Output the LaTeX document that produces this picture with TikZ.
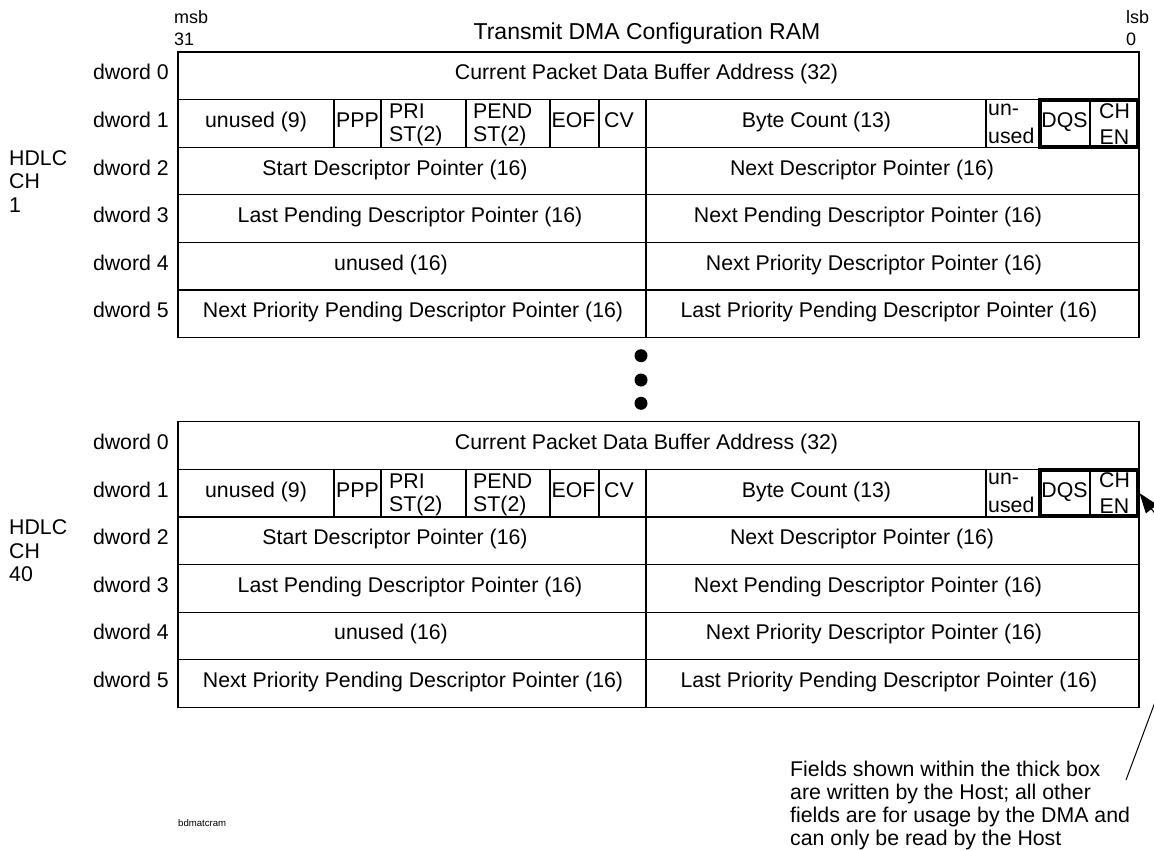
\documentclass[tikz,border=0pt]{standalone}
\usepackage{fontspec}
\setmainfont{Liberation Sans}
\usetikzlibrary{arrows.meta}
\tikzset{
  cell/.style={inner sep=0pt, text height=0.9em, text depth=0.1em, anchor=center},
  lineL/.style={inner sep=0pt, anchor=base west},
  lineC/.style={inner sep=0pt, anchor=base},
  bitlbl/.style={inner sep=0pt, anchor=base west, font=\fontsize{18}{20}\selectfont},
  grid/.style={line width=1.2pt},
  thickbox/.style={draw, line width=4pt, inner sep=0pt, minimum width=97.5pt, minimum height=46.5pt},
  dotmark/.style={circle, fill=black, inner sep=0pt, minimum size=13pt},
  leader/.style={line width=1pt, -{Triangle[length=20pt,width=14pt]}},
}
\newcommand\dmatable[3]{%
\begin{scope}[yshift=-#1pt]
  \draw[grid] (178,0) rectangle (1139,285.6);
  \foreach \y in {47.6,95.2,142.8,190.4,238} \draw[grid] (178,\y) -- (1139,\y);
  \foreach \x in {334,381,466,550,599,986,1090} \draw[grid] (\x,47.6) -- (\x,95.2);
  \draw[grid] (646,47.6) -- (646,285.6);
  \node[thickbox] (host#2) at (1088.75,71.4) {};
  % row labels
  \node[cell, anchor=east] (dwa#2) at (169,23.8) {dword 0};
  \node[cell, anchor=east] (dwb#2) at (169,71.4) {dword 1};
  \node[cell, anchor=east] (dwc#2) at (169,119) {dword 2};
  \node[cell, anchor=east] (dwd#2) at (169,166.6) {dword 3};
  \node[cell, anchor=east] (dwe#2) at (169,214.2) {dword 4};
  \node[cell, anchor=east] (dwf#2) at (169,261.8) {dword 5};
  \node[lineL] (hdlc#2) at (9,113) {HDLC};
  \node[lineL] (ch#2) at (9,136.5) {CH};
  \node[lineL] (chn#2) at (9,160) {#3};
  % dword 0
  \node[cell] (cpdba#2) at (646.5,23.8) {Current Packet Data Buffer Address (32)};
  % dword 1
  \node[cell] (unu#2) at (256,71.4) {unused (9)};
  \node[cell] (ppp#2) at (357.5,71.4) {PPP};
  \node[lineL] (pria#2) at (389,66.3) {PRI};
  \node[lineL] (prib#2) at (389,89.7) {ST(2)};
  \node[lineL] (penda#2) at (473,66.3) {PEND};
  \node[lineL] (pendb#2) at (473,89.7) {ST(2)};
  \node[cell, anchor=west] (eof#2) at (551.5,71.4) {EOF};
  \node[cell] (cv#2) at (619,71.4) {CV};
  \node[cell] (bc#2) at (816.5,71.4) {Byte Count (13)};
  \node[lineL] (una#2) at (988,63) {un-};
  \node[lineL] (unb#2) at (988,91) {used};
  \node[cell] (dqs#2) at (1064.5,71.4) {DQS};
  \node[lineC] (chena#2) at (1114.5,66) {CH};
  \node[lineC] (chenb#2) at (1114.5,92) {EN};
  % dword 2-5
  \node[cell] (sdp#2) at (395,119) {Start Descriptor Pointer (16)};
  \node[cell] (ndp#2) at (862,119) {Next Descriptor Pointer (16)};
  \node[cell] (lpdp#2) at (410,166.6) {Last Pending Descriptor Pointer (16)};
  \node[cell] (npdp#2) at (868,166.6) {Next Pending Descriptor Pointer (16)};
  \node[cell] (unx#2) at (391,214.2) {unused (16)};
  \node[cell] (nprdp#2) at (874,214.2) {Next Priority Descriptor Pointer (16)};
  \node[cell] (nppdp#2) at (413,261.8) {Next Priority Pending Descriptor Pointer (16)};
  \node[cell] (lppdp#2) at (889,261.8) {Last Priority Pending Descriptor Pointer (16)};
\end{scope}}
\begin{document}
\begin{tikzpicture}[x=1pt, y=-1pt, font=\fontsize{21.3}{24}\selectfont]
\useasboundingbox (0,0) rectangle (1154,851);
\node[bitlbl] (msb) at (174,24) {msb};
\node[bitlbl] (msbn) at (174,46) {31};
\node[bitlbl] (lsb) at (1126,24) {lsb};
\node[bitlbl] (lsbn) at (1126,46) {0};
\node[lineC, font=\fontsize{23}{26}\selectfont] (title) at (647,40) {Transmit DMA Configuration RAM};
\dmatable{52}{A}{1}
\dmatable{421.7}{B}{40}
\node[dotmark] (dot1) at (641,355.7) {};
\node[dotmark] (dot2) at (641,380) {};
\node[dotmark] (dot3) at (641,403.3) {};
\node[lineL] (notea) at (790,776.5) {Fields shown within the thick box};
\node[lineL] (noteb) at (790,799.5) {are written by the Host; all other};
\node[lineL] (notec) at (790,822.5) {fields are for usage by the DMA and};
\node[lineL] (noted) at (790,845.5) {can only be read by the Host};
\node[lineL, font=\fontsize{9.6}{11}\selectfont] (fname) at (178,826) {bdmatcram};
\coordinate (notept) at (1126,780);
\coordinate (bend) at (1202,576);
\begin{scope}
\clip (0,0) rectangle (1154,851);
\draw[leader] (notept) -- (bend) -- (hostB.east);
\end{scope}
\end{tikzpicture}
\end{document}
